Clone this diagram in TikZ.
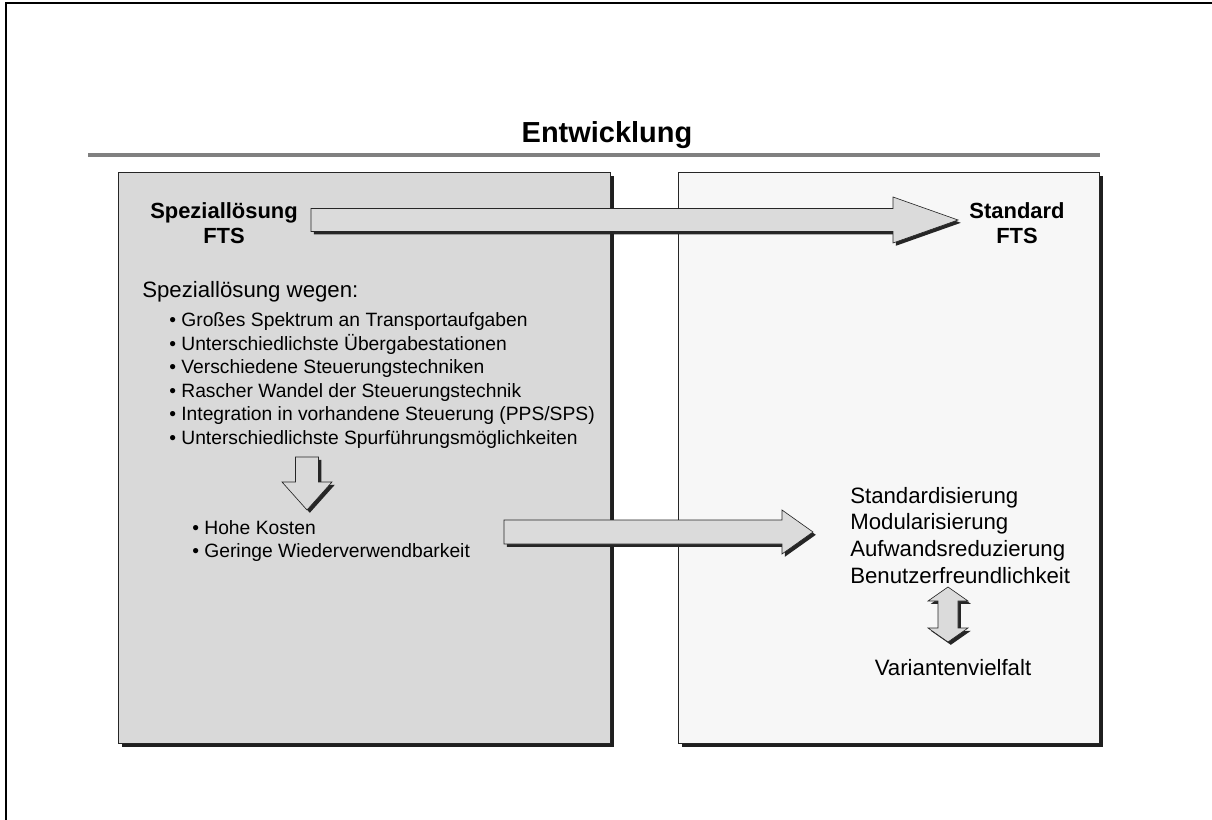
\documentclass[tikz,border=0pt]{standalone}
\usepackage{fontspec}
\setmainfont{Liberation Sans}
\usetikzlibrary{shadows,calc}

\tikzset{
  panel/.style={draw=black!85, line width=0.6pt,
    drop shadow={shadow xshift=2.5pt, shadow yshift=-2.5pt, fill=black!88, opacity=1}},
  fatarrow/.style={draw=black!85, line width=0.45pt, fill=black!14,
    drop shadow={shadow xshift=2pt, shadow yshift=-2pt, fill=black!85, opacity=1}},
  headline/.style={font=\fontsize{20.6}{24}\selectfont\bfseries, inner sep=0pt},
  boldlabel/.style={font=\fontsize{15.6}{17.8}\selectfont\bfseries, align=center, inner sep=0pt},
  bigtext/.style={font=\fontsize{15.8}{19}\selectfont, inner sep=0pt},
  listtext/.style={font=\fontsize{13.7}{16.6}\selectfont, inner sep=0pt},
}

\begin{document}
\begin{tikzpicture}[x=0.025cm, y=-0.025cm]
    \useasboundingbox (0,0) rectangle (1212,820);
    \draw[line width=1pt] (6,820) -- (6,3) -- (1212,3);

    \node[headline, anchor=base] (title) at (607,143) {Entwicklung};
    \draw[line width=3pt, black!50] (88,155) -- (1100,155);

    % the two panels
    \draw[panel, fill=black!15] (118,172) rectangle (610,743);
    \draw[panel, fill=black!3] (678,172) rectangle (1099,743);

    \node[boldlabel] (spez) at (224,223) {Speziallösung\\FTS};
    \node[boldlabel] (std) at (1017,223) {Standard\\FTS};

    \coordinate (a1s) at (311,220);
    \coordinate (a1e) at (958,220);
    \draw[fatarrow] ($(a1s)+(0,-11.5)$) -- ($(a1e)+(-65,-11.5)$) -- ($(a1e)+(-65,-23)$)
        -- (a1e) -- ($(a1e)+(-65,23)$) -- ($(a1e)+(-65,11.5)$) -- ($(a1s)+(0,11.5)$) -- cycle;

    \node[bigtext, anchor=base west] (wegen) at (142,298) {Speziallösung wegen:};
    \foreach \txt [count=\i] in {Großes Spektrum an Transportaufgaben,
        Unterschiedlichste Übergabestationen,
        Verschiedene Steuerungstechniken,
        Rascher Wandel der Steuerungstechnik,
        Integration in vorhandene Steuerung (PPS/SPS),
        Unterschiedlichste Spurführungsmöglichkeiten}
        \node[listtext, anchor=base west] (grund\i) at (169,{327+23.4*(\i-1)}) {• \txt};

    % down arrow
    \coordinate (d1s) at (307,457);
    \coordinate (d1e) at (307,510);
    \draw[fatarrow, fill=black!15] ($(d1s)+(-11.5,0)$) -- ($(d1s)+(11.5,0)$) -- ($(d1e)+(11.5,-28)$)
        -- ($(d1e)+(25,-28)$) -- (d1e) -- ($(d1e)+(-25,-28)$) -- ($(d1e)+(-11.5,-28)$) -- cycle;

    \node[listtext, anchor=base west] (kosten) at (192,534) {• Hohe Kosten};
    \node[listtext, anchor=base west] (reuse) at (192,557) {• Geringe Wiederverwendbarkeit};

    \coordinate (a2s) at (504,532);
    \coordinate (a2e) at (813,532);
    \draw[fatarrow] ($(a2s)+(0,-12)$) -- ($(a2e)+(-31,-12)$) -- ($(a2e)+(-31,-22)$)
        -- (a2e) -- ($(a2e)+(-31,22)$) -- ($(a2e)+(-31,12)$) -- ($(a2s)+(0,12)$) -- cycle;

    \foreach \txt [count=\i] in {Standardisierung, Modularisierung,
        Aufwandsreduzierung, Benutzerfreundlichkeit}
        \node[bigtext, anchor=base west] (ziel\i) at (850,{503+26.7*(\i-1)}) {\txt};

    % double arrow
    \coordinate (v1s) at (948,587);
    \coordinate (v1e) at (948,642);
    \draw[fatarrow] (v1s) -- ($(v1s)+(20,14)$) -- ($(v1s)+(10,14)$) -- ($(v1e)+(10,-14)$)
        -- ($(v1e)+(20,-14)$) -- (v1e) -- ($(v1e)+(-20,-14)$) -- ($(v1e)+(-10,-14)$)
        -- ($(v1s)+(-10,14)$) -- ($(v1s)+(-20,14)$) -- cycle;

    \node[bigtext, anchor=base] (vielfalt) at (953,675) {Variantenvielfalt};
\end{tikzpicture}
\end{document}
